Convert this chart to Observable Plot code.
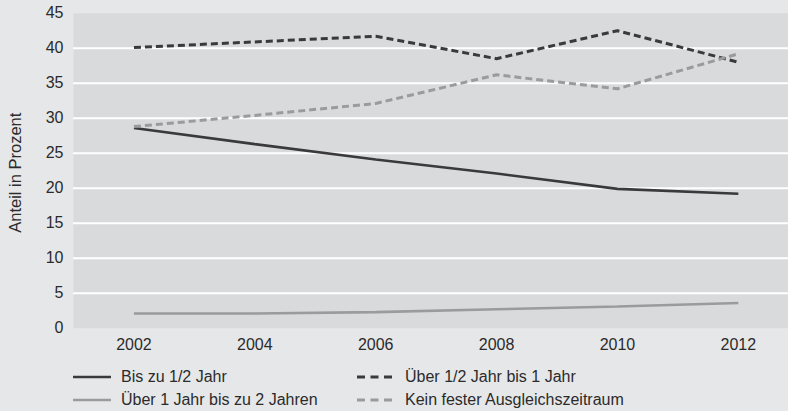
<!DOCTYPE html>
<html>
<head>
<meta charset="utf-8">
<script src="https://cdn.jsdelivr.net/npm/d3@7"></script>
<script src="https://cdn.jsdelivr.net/npm/@observablehq/plot@0.6"></script>
<style>
  html, body { margin: 0; padding: 0; background: #e6e7e9; }
  body { width: 788px; height: 411px; overflow: hidden; font-family: "Liberation Sans", Arial, sans-serif; color: #2b2b2b; }
  #legend { position: relative; height: 53px; font-size: 16px; }
  .item { position: absolute; display: flex; align-items: center; height: 20px; }
  .item svg { margin-right: 10px; }
</style>
</head>
<body>
<div id="chart"></div>
<div id="legend"></div>
<script>
const years = [2002, 2004, 2006, 2008, 2010, 2012];
const seriesNames = [
  "Bis zu 1/2 Jahr",
  "Über 1/2 Jahr bis 1 Jahr",
  "Über 1 Jahr bis zu 2 Jahren",
  "Kein fester Ausgleichszeitraum"
];
const bisHalbJahr = [28.6, 26.3, 24.1, 22.1, 19.9, 19.2];
const halbBisEinJahr = [40.1, 40.9, 41.7, 38.5, 42.5, 38.0];
const einBisZweiJahre = [2.1, 2.1, 2.3, 2.7, 3.1, 3.6];
const keinFester = [28.8, 30.4, 32.1, 36.2, 34.2, 39.2];
const yTicks = [0, 5, 10, 15, 20, 25, 30, 35, 40, 45];
const gridValues = [5, 10, 15, 20, 25, 30, 35, 40];

const dark = "#3a3a3c";
const gray = "#9a9b9d";
const styles = [
  {stroke: dark, dash: null, width: 2.6},
  {stroke: dark, dash: "7,4", width: 3},
  {stroke: gray, dash: null, width: 2.6},
  {stroke: gray, dash: "7,4", width: 3}
];
const allValues = [bisHalbJahr, halbBisEinJahr, einBisZweiJahre, keinFester];

const data = [];
allValues.forEach((vals, si) => {
  vals.forEach((v, i) => data.push({series: seriesNames[si], year: years[i], value: v}));
});

const lineMarks = seriesNames.map((name, si) =>
  Plot.line(data.filter(d => d.series === name), {
    x: "year", y: "value",
    stroke: styles[si].stroke,
    strokeWidth: styles[si].width,
    strokeDasharray: styles[si].dash,
    strokeLinejoin: "miter",
    strokeLinecap: "butt"
  })
);

const font = "\"Liberation Sans\", Arial, sans-serif";
const chart = Plot.plot({
  width: 788,
  height: 358,
  marginTop: 12.7,
  marginBottom: 30.3,
  marginLeft: 73,
  marginRight: 0,
  style: {background: "transparent", fontSize: "16px", fontFamily: font, color: "#2b2b2b"},
  x: {domain: [2001, 2012.83], ticks: years, tickFormat: d => String(d), tickSize: 0, tickPadding: 9, label: null},
  y: {domain: [0, 45], ticks: yTicks, tickSize: 0, tickPadding: 10, label: null},
  marks: [
    Plot.frame({fill: "#d9dadc", stroke: null}),
    Plot.ruleY(gridValues, {stroke: "#ffffff", strokeWidth: 2}),
    Plot.axisX({ticks: years, tickFormat: d => String(d), tickSize: 0, tickPadding: 10, label: null, fontSize: 16}),
    Plot.axisY({ticks: yTicks, tickSize: 0, tickPadding: 10, label: null, fontSize: 16}),
    Plot.text(["Anteil in Prozent"], {frameAnchor: "left", dx: -58, dy: 2, rotate: -90, textAnchor: "middle", fontSize: 16.5, fill: "#2b2b2b"}),
    ...lineMarks
  ]
});
document.getElementById("chart").appendChild(chart);

// Legend
const legend = document.getElementById("legend");
const positions = [
  {left: 73, top: 9},
  {left: 357, top: 9},
  {left: 73, top: 32},
  {left: 357, top: 32}
];
[0, 1, 2, 3].forEach((si, k) => {
  const p = positions[k];
  const div = document.createElement("div");
  div.className = "item";
  div.style.left = p.left + "px";
  div.style.top = p.top + "px";
  const ns = "http://www.w3.org/2000/svg";
  const svg = document.createElementNS(ns, "svg");
  svg.setAttribute("width", 38);
  svg.setAttribute("height", 8);
  const ln = document.createElementNS(ns, "line");
  ln.setAttribute("x1", 0); ln.setAttribute("x2", 38);
  ln.setAttribute("y1", 4); ln.setAttribute("y2", 4);
  ln.setAttribute("stroke", styles[si].stroke);
  ln.setAttribute("stroke-width", styles[si].width);
  if (styles[si].dash) ln.setAttribute("stroke-dasharray", "8,5.5");
  svg.appendChild(ln);
  div.appendChild(svg);
  const span = document.createElement("span");
  span.textContent = seriesNames[si];
  div.appendChild(span);
  legend.appendChild(div);
});
</script>
</body>
</html>
